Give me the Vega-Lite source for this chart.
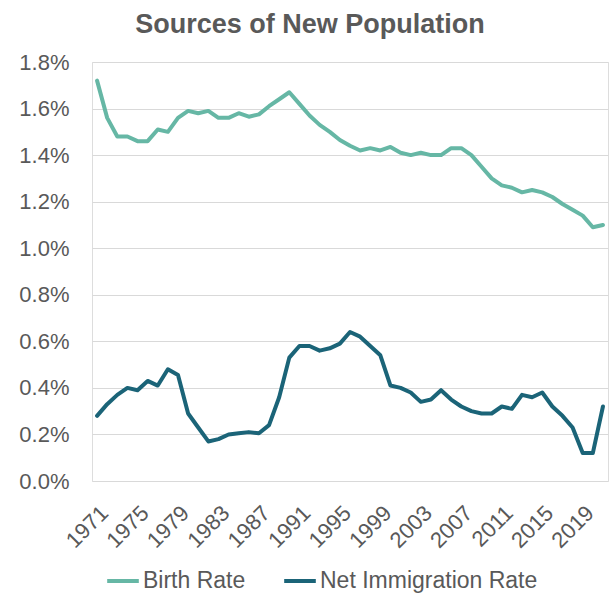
{
  "$schema": "https://vega.github.io/schema/vega-lite/v6.json",
  "autosize": {"type": "none"},
  "padding": {"left": 92, "right": 2, "top": 62, "bottom": 113},
  "width": 516,
  "height": 419,
  "background": "white",
  "title": {
    "text": "Sources of New Population",
    "font": "Liberation Sans",
    "fontSize": 27,
    "fontWeight": "bold",
    "color": "#595959",
    "anchor": "middle",
    "offset": 20,
    "dx": -40,
    "dy": 8
  },
  "data": {
    "values": [
      {"year": 1971, "Birth Rate": 1.72, "Net Immigration Rate": 0.28},
      {"year": 1972, "Birth Rate": 1.56, "Net Immigration Rate": 0.33},
      {"year": 1973, "Birth Rate": 1.48, "Net Immigration Rate": 0.37},
      {"year": 1974, "Birth Rate": 1.48, "Net Immigration Rate": 0.40},
      {"year": 1975, "Birth Rate": 1.46, "Net Immigration Rate": 0.39},
      {"year": 1976, "Birth Rate": 1.46, "Net Immigration Rate": 0.43},
      {"year": 1977, "Birth Rate": 1.51, "Net Immigration Rate": 0.41},
      {"year": 1978, "Birth Rate": 1.50, "Net Immigration Rate": 0.48},
      {"year": 1979, "Birth Rate": 1.56, "Net Immigration Rate": 0.455},
      {"year": 1980, "Birth Rate": 1.59, "Net Immigration Rate": 0.29},
      {"year": 1981, "Birth Rate": 1.58, "Net Immigration Rate": 0.23},
      {"year": 1982, "Birth Rate": 1.59, "Net Immigration Rate": 0.17},
      {"year": 1983, "Birth Rate": 1.56, "Net Immigration Rate": 0.18},
      {"year": 1984, "Birth Rate": 1.56, "Net Immigration Rate": 0.20},
      {"year": 1985, "Birth Rate": 1.58, "Net Immigration Rate": 0.205},
      {"year": 1986, "Birth Rate": 1.565, "Net Immigration Rate": 0.21},
      {"year": 1987, "Birth Rate": 1.575, "Net Immigration Rate": 0.205},
      {"year": 1988, "Birth Rate": 1.61, "Net Immigration Rate": 0.24},
      {"year": 1989, "Birth Rate": 1.64, "Net Immigration Rate": 0.36},
      {"year": 1990, "Birth Rate": 1.67, "Net Immigration Rate": 0.53},
      {"year": 1991, "Birth Rate": 1.62, "Net Immigration Rate": 0.58},
      {"year": 1992, "Birth Rate": 1.57, "Net Immigration Rate": 0.58},
      {"year": 1993, "Birth Rate": 1.53, "Net Immigration Rate": 0.56},
      {"year": 1994, "Birth Rate": 1.50, "Net Immigration Rate": 0.57},
      {"year": 1995, "Birth Rate": 1.465, "Net Immigration Rate": 0.59},
      {"year": 1996, "Birth Rate": 1.44, "Net Immigration Rate": 0.64},
      {"year": 1997, "Birth Rate": 1.42, "Net Immigration Rate": 0.62},
      {"year": 1998, "Birth Rate": 1.43, "Net Immigration Rate": 0.58},
      {"year": 1999, "Birth Rate": 1.42, "Net Immigration Rate": 0.54},
      {"year": 2000, "Birth Rate": 1.435, "Net Immigration Rate": 0.41},
      {"year": 2001, "Birth Rate": 1.41, "Net Immigration Rate": 0.40},
      {"year": 2002, "Birth Rate": 1.40, "Net Immigration Rate": 0.38},
      {"year": 2003, "Birth Rate": 1.41, "Net Immigration Rate": 0.34},
      {"year": 2004, "Birth Rate": 1.40, "Net Immigration Rate": 0.35},
      {"year": 2005, "Birth Rate": 1.40, "Net Immigration Rate": 0.39},
      {"year": 2006, "Birth Rate": 1.43, "Net Immigration Rate": 0.35},
      {"year": 2007, "Birth Rate": 1.43, "Net Immigration Rate": 0.32},
      {"year": 2008, "Birth Rate": 1.40, "Net Immigration Rate": 0.30},
      {"year": 2009, "Birth Rate": 1.35, "Net Immigration Rate": 0.29},
      {"year": 2010, "Birth Rate": 1.30, "Net Immigration Rate": 0.29},
      {"year": 2011, "Birth Rate": 1.27, "Net Immigration Rate": 0.32},
      {"year": 2012, "Birth Rate": 1.26, "Net Immigration Rate": 0.31},
      {"year": 2013, "Birth Rate": 1.24, "Net Immigration Rate": 0.37},
      {"year": 2014, "Birth Rate": 1.25, "Net Immigration Rate": 0.36},
      {"year": 2015, "Birth Rate": 1.24, "Net Immigration Rate": 0.38},
      {"year": 2016, "Birth Rate": 1.22, "Net Immigration Rate": 0.32},
      {"year": 2017, "Birth Rate": 1.19, "Net Immigration Rate": 0.28},
      {"year": 2018, "Birth Rate": 1.165, "Net Immigration Rate": 0.23},
      {"year": 2019, "Birth Rate": 1.14, "Net Immigration Rate": 0.12},
      {"year": 2020, "Birth Rate": 1.09, "Net Immigration Rate": 0.12},
      {"year": 2021, "Birth Rate": 1.10, "Net Immigration Rate": 0.32}
    ]
  },
  "transform": [
    {"fold": ["Birth Rate", "Net Immigration Rate"], "as": ["series", "rate"]}
  ],
  "mark": {"type": "line", "strokeWidth": 4, "strokeJoin": "round", "strokeCap": "round"},
  "encoding": {
    "x": {
      "field": "year",
      "type": "quantitative",
      "scale": {"domain": [1970.5, 2021.5], "nice": false, "zero": false},
      "axis": {
        "title": null,
        "values": [1971, 1975, 1979, 1983, 1987, 1991, 1995, 1999, 2003, 2007, 2011, 2015, 2019],
        "format": "d",
        "labelAngle": -45,
        "labelAlign": "right",
        "labelBaseline": "top",
        "labelPadding": 21,
        "labelFont": "Liberation Sans",
        "labelFontSize": 22,
        "labelColor": "#595959",
        "labelOverlap": false,
        "labelFlush": false,
        "labelBound": false,
        "domain": false,
        "ticks": false,
        "grid": false
      }
    },
    "y": {
      "field": "rate",
      "type": "quantitative",
      "scale": {"domain": [0, 1.8], "nice": false},
      "axis": {
        "title": null,
        "values": [0, 0.2, 0.4, 0.6, 0.8, 1.0, 1.2, 1.4, 1.6, 1.8],
        "labelExpr": "format(datum.value, '.1f') + '%'",
        "labelFont": "Liberation Sans",
        "labelFontSize": 22,
        "labelColor": "#595959",
        "labelPadding": 23,
        "labelFlush": false,
        "domain": false,
        "ticks": false,
        "grid": true,
        "gridColor": "#D9D9D9",
        "gridWidth": 1.2
      }
    },
    "color": {
      "field": "series",
      "type": "nominal",
      "scale": {"domain": ["Birth Rate", "Net Immigration Rate"], "range": ["#66B7A5", "#1B6478"]},
      "legend": {
        "title": null,
        "orient": "none",
        "direction": "horizontal",
        "legendX": 13,
        "legendY": 501,
        "symbolType": "stroke",
        "symbolStrokeWidth": 4,
        "symbolSize": 1000,
        "labelFont": "Liberation Sans",
        "labelFontSize": 23,
        "labelColor": "#595959",
        "labelLimit": 400,
        "labelOffset": 2,
        "columnPadding": 30
      }
    }
  }
}
